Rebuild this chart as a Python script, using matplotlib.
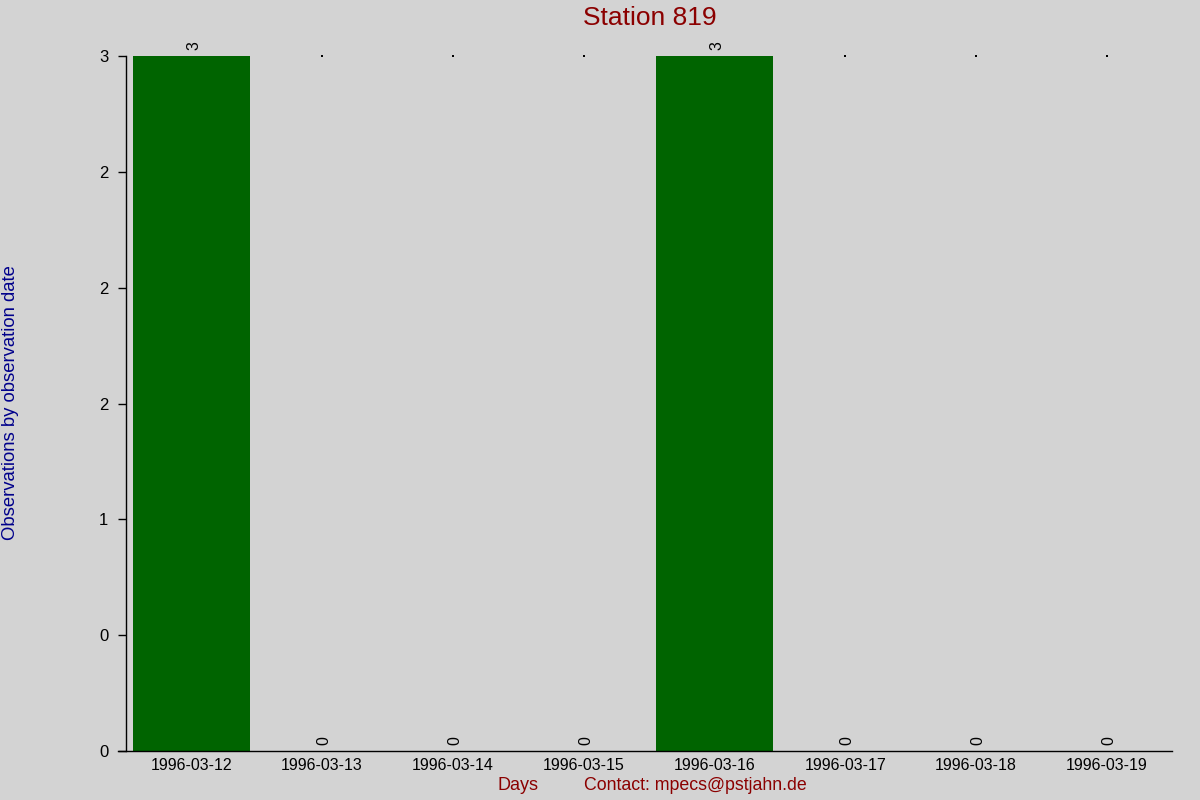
import matplotlib
matplotlib.use("Agg")
import matplotlib.pyplot as plt
import numpy as np

days = ["1996-03-12", "1996-03-13", "1996-03-14", "1996-03-15",
        "1996-03-16", "1996-03-17", "1996-03-18", "1996-03-19"]
counts = [3, 0, 0, 0, 3, 0, 0, 0]
yticks = [0, 0.5, 1, 1.5, 2, 2.5, 3]

plt.rcParams['font.family'] = ['Liberation Sans', 'DejaVu Sans']

bg = '#d3d3d3'
fig = plt.figure(figsize=(12, 8), dpi=100, facecolor=bg)
ax = fig.add_axes([126/1200, 1-751/800, (1172-126)/1200, (751-56)/800])
ax.set_facecolor(bg)

x = np.arange(len(days))
ax.bar(x, counts, width=0.9, color='#006400', zorder=2)

for xi, v in zip(x, counts):
    ax.annotate(str(v), (xi, v), xytext=(1.5, 4.5), textcoords='offset points',
                ha='center', va='bottom', rotation=90, fontsize=11.5,
                color='black', annotation_clip=False)

zero_x = [xi for xi, v in zip(x, counts) if v == 0]
ax.scatter(zero_x, [max(counts)] * len(zero_x), s=1.0, marker='s',
           color='black', clip_on=False, zorder=3, linewidths=0)

ax.set_xlim(-0.5, len(days) - 0.5)
ax.set_ylim(0, max(counts))
ax.set_xticks(x)
ax.set_xticklabels(days, fontsize=11.5)
ax.set_yticks(yticks)
ax.set_yticklabels(['%.0f' % t for t in yticks], fontsize=12)
ax.tick_params(axis='x', length=0, pad=5)
ax.tick_params(axis='y', length=5.8, width=1, pad=7, color='black')

for s in ['top', 'right']:
    ax.spines[s].set_visible(False)
ax.spines['left'].set_linewidth(1)
ax.spines['bottom'].set_linewidth(1)
ax.spines['bottom'].set_bounds(-0.5 - 8/130.7, len(days) - 0.5)

fig.text(650/1200, 1-18/800, 'Station 819', ha='center', va='center',
         fontsize=19, color='#8b0000')
fig.text(11/1200, 1-403/800, 'Observations by observation date',
         ha='center', va='center', rotation=90, fontsize=13.3, color='#00008b')
fig.text(518/1200, 1-786/800, 'Days', ha='center', va='center',
         fontsize=13, color='#8b0000')
fig.text(695/1200, 1-786/800, 'Contact: mpecs@pstjahn.de', ha='center',
         va='center', fontsize=12.8, color='#8b0000')

fig.savefig('out.png', dpi=100, facecolor=bg)
